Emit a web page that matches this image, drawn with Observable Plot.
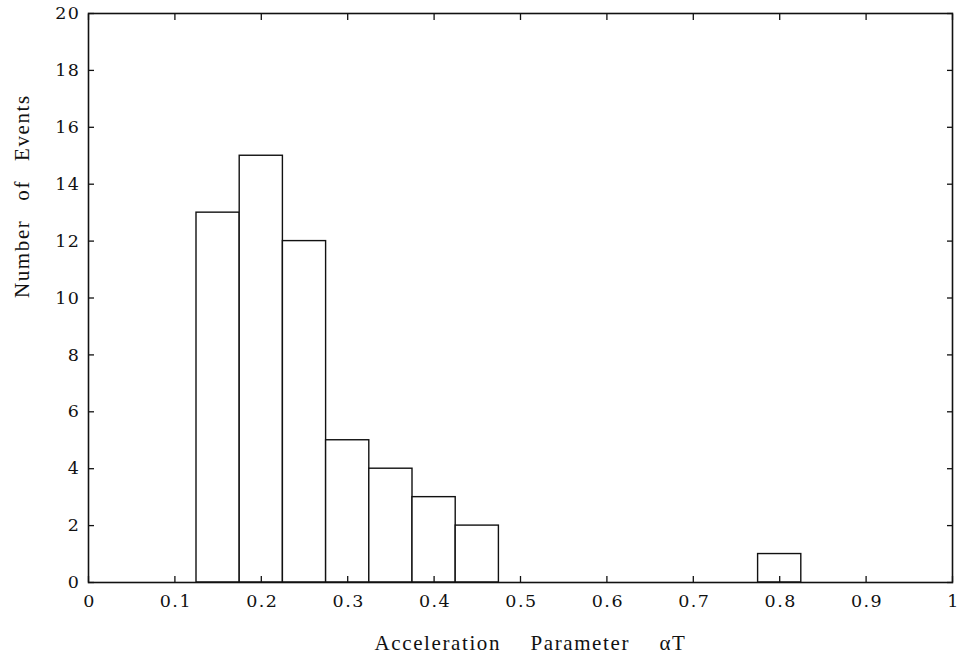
<!DOCTYPE html>
<html><head><meta charset="utf-8">
<script src="https://cdn.jsdelivr.net/npm/d3@7"></script>
<script src="https://cdn.jsdelivr.net/npm/@observablehq/plot@0.6"></script>
<style>
body{margin:0;background:#fff;}
.lbl{letter-spacing:1.6px;}
.tk{letter-spacing:1.5px;}
</style></head><body><div id="chart"></div>
<script>
const binLo = [0.125,0.175,0.225,0.275,0.325,0.375,0.425,0.775];
const binHi = [0.175,0.225,0.275,0.325,0.375,0.425,0.475,0.825];
const counts = [13,15,12,5,4,3,2,1];
const xTicks = [0,0.1,0.2,0.3,0.4,0.5,0.6,0.7,0.8,0.9,1];
const yTicks = [0,2,4,6,8,10,12,14,16,18,20];
const xLabel = "Acceleration\u2003 Parameter\u2003 \u03b1T";
const yLabel = "Number\u2002 of\u2002 Events";

const bars = binLo.map((lo,i)=>({lo, hi: binHi[i], n: counts[i]}));
const fmtX = d => d === 0 || d === 1 ? String(d) : d.toFixed(1);
const tickFont = '"DejaVu Serif", serif';

const chart = Plot.plot({
  width: 959, height: 661,
  marginLeft: 88, marginRight: 7, marginTop: 13, marginBottom: 79,
  x: {domain:[0,1]}, y: {domain:[0,20]},
  style: {color:"#111"},
  marks: [
    Plot.rectY(bars, {x1:"lo", x2:"hi", y:"n", fill:"white", stroke:"#111", strokeWidth:1.4}),
    Plot.axisX({anchor:"bottom", ticks:xTicks, tickSize:-6, text:null, label:null, strokeWidth:1.3}),
    Plot.axisX({anchor:"top", ticks:xTicks, tickSize:-6, text:null, label:null, strokeWidth:1.3}),
    Plot.axisY({anchor:"left", ticks:yTicks, tickSize:-6, text:null, label:null, strokeWidth:1.3}),
    Plot.axisY({anchor:"right", ticks:yTicks, tickSize:-6, text:null, label:null, strokeWidth:1.3}),
    Plot.text(xTicks, {x:d=>d, frameAnchor:"bottom", dy:24, dx:1, text:fmtX, fontFamily:tickFont, fontSize:17.5, fill:"#111", className:"tk"}),
    Plot.text(yTicks, {y:d=>d, frameAnchor:"left", dx:-8, textAnchor:"end", text:d=>String(d), fontFamily:tickFont, fontSize:17.5, fill:"#111", className:"tk"}),
    Plot.frame({stroke:"#111", strokeWidth:1.6}),
    Plot.text([xLabel], {frameAnchor:"bottom", dy:67, dx:10, text:d=>d, fontFamily:'"Liberation Serif", serif', fontSize:21, fill:"#111", className:"lbl"}),
    Plot.text([yLabel], {frameAnchor:"left", dx:-66, rotate:-90, text:d=>d, fontFamily:'"Liberation Serif", serif', fontSize:21, fill:"#111", className:"lbl"})
  ]
});
document.getElementById("chart").appendChild(chart);
</script></body></html>
